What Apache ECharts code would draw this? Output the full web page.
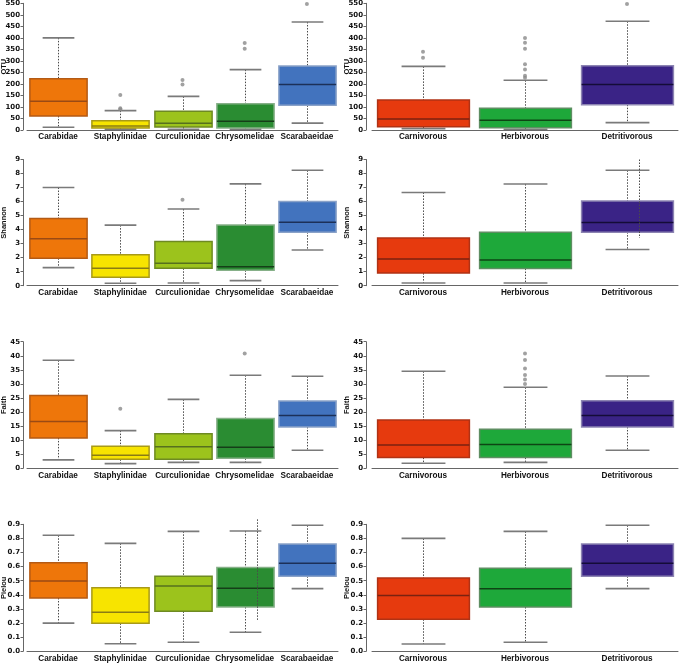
<!DOCTYPE html>
<html><head><meta charset="utf-8">
<script src="https://cdn.jsdelivr.net/npm/echarts@6/dist/echarts.min.js"></script>
<style>html,body{margin:0;padding:0;background:#fff}#c{width:684px;height:663px}</style>
</head><body><div id="c"></div>
<script>
// ---------- DATA ----------
const families = ['Carabidae', 'Staphylinidae', 'Curculionidae', 'Chrysomelidae', 'Scarabaeidae'];
const feedingGroups = ['Carnivorous', 'Herbivorous', 'Detritivorous'];
const metricNames = ['OTU', 'Shannon', 'Faith', 'Pielou'];
const yMaxes = [550, 9, 45, 0.9];
const ySteps = [50, 1, 5, 0.1];

// each box: [lower whisker, Q1, median, Q3, upper whisker]
const otuFamily = [[12, 61, 125, 223, 400], [4, 9, 17, 40, 84], [3, 13, 29, 81, 146], [4, 9, 38, 114, 262], [30, 107, 198, 278, 469]];
const otuFeeding = [[6, 14, 48, 130, 276], [3, 10, 42, 94, 216], [32, 110, 198, 279, 472]];
const shannonFamily = [[1.29, 1.96, 3.34, 4.8, 7.0], [0.17, 0.6, 1.24, 2.2, 4.32], [0.19, 1.24, 1.6, 3.15, 5.47], [0.36, 1.1, 1.36, 4.32, 7.26], [2.55, 3.82, 4.53, 6.01, 8.23]];
const shannonFeeding = [[0.19, 0.9, 1.9, 3.41, 6.65], [0.19, 1.22, 1.83, 3.82, 7.25], [2.58, 3.82, 4.51, 6.04, 8.23]];
const faithFamily = [[3.0, 10.8, 16.6, 25.9, 38.4], [1.66, 3.2, 4.6, 7.8, 13.4], [2.1, 3.2, 7.7, 12.3, 24.5], [2.1, 3.55, 7.5, 17.7, 33.1], [6.4, 14.7, 18.8, 23.9, 32.7]];
const faithFeeding = [[1.8, 3.8, 8.3, 17.2, 34.5], [2.1, 3.8, 8.5, 13.9, 28.8], [6.4, 14.7, 18.8, 24.05, 32.8]];
const pielouFamily = [[0.2, 0.378, 0.498, 0.628, 0.822], [0.054, 0.198, 0.276, 0.451, 0.765], [0.064, 0.283, 0.463, 0.532, 0.85], [0.135, 0.314, 0.446, 0.593, 0.853], [0.444, 0.532, 0.624, 0.761, 0.893]];
const pielouFeeding = [[0.052, 0.227, 0.395, 0.52, 0.80], [0.064, 0.314, 0.444, 0.588, 0.85], [0.444, 0.532, 0.624, 0.761, 0.893]];

// outliers: [category index, value]
const otuFamilyOutliers = [[1, 152], [1, 94], [1, 90], [2, 217], [2, 197], [3, 378], [3, 353], [4, 547]];
const otuFeedingOutliers = [[0, 340], [0, 314], [1, 399], [1, 379], [1, 353], [1, 285], [1, 263], [1, 236], [1, 227], [2, 547]];
const shannonFamilyOutliers = [[2, 6.13]];
const shannonFeedingOutliers = [];
const faithFamilyOutliers = [[1, 21.2], [3, 40.8]];
const faithFeedingOutliers = [[1, 40.8], [1, 38.5], [1, 35.5], [1, 33.2], [1, 31.6], [1, 30.0]];
const pielouFamilyOutliers = [];
const pielouFeedingOutliers = [];

// stray dotted whisker segments visible in the figure: [category index, low, high]
const shannonFeedingExtra = [[2, 3.4, 9.0]];
const pielouFamilyExtra = [[3, 0.222, 0.935]];

// ---------- STYLE ----------
const familyColors = [
  {fill: '#EE760A', border: '#B45A14', median: '#9A4A14'},
  {fill: '#F7E400', border: '#A89A18', median: '#8A7C14'},
  {fill: '#9CC31C', border: '#6E8A22', median: '#56701E'},
  {fill: '#2A8C32', border: '#86B088', median: '#153E18'},
  {fill: '#4273BE', border: '#8AA2C8', median: '#1C3058'}
];
const feedingColors = [
  {fill: '#E63A0E', border: '#B03214', median: '#7A2210'},
  {fill: '#1EA83A', border: '#5E8E62', median: '#0E4414'},
  {fill: '#3A2386', border: '#8C84B2', median: '#140C38'}
];

const famSets = [
  [otuFamily, otuFamilyOutliers, []], [shannonFamily, shannonFamilyOutliers, []],
  [faithFamily, faithFamilyOutliers, []], [pielouFamily, pielouFamilyOutliers, pielouFamilyExtra]
];
const feedSets = [
  [otuFeeding, otuFeedingOutliers, []], [shannonFeeding, shannonFeedingOutliers, shannonFeedingExtra],
  [faithFeeding, faithFeedingOutliers, []], [pielouFeeding, pielouFeedingOutliers, []]
];
const rowTops = [3.3, 159.5, 341.7, 524.3];
const rowHeights = [126.7, 126.2, 126.6, 127];

const grids = [], xAxes = [], yAxes = [], series = [];
const labelFont = {fontFamily: 'Liberation Sans, Arial, sans-serif', fontWeight: 'bold', color: '#111'};
const tickFont = {fontFamily: 'DejaVu Sans, sans-serif', fontWeight: 'bold', color: '#111'};

function boxRenderer(colors, boxRatio, capRatio) {
  return function (params, api) {
    const x = api.value(0);
    const lo = api.coord([x, api.value(1)]);
    const q1 = api.coord([x, api.value(2)]);
    const med = api.coord([x, api.value(3)]);
    const q3 = api.coord([x, api.value(4)]);
    const hi = api.coord([x, api.value(5)]);
    const band = api.size([1, 0])[0];
    const bw = band * boxRatio, cw = band * capRatio;
    const cx = Math.round(lo[0]) + 0.5;
    const c = colors[params.dataIndex];
    const dot = {stroke: '#4a4a4a', lineWidth: 1, lineDash: [1.5, 1.5]};
    const cap = {stroke: '#7a7a7a', lineWidth: 1.6};
    return {type: 'group', children: [
      {type: 'line', shape: {x1: cx, y1: hi[1], x2: cx, y2: q3[1]}, style: dot},
      {type: 'line', shape: {x1: cx, y1: q1[1], x2: cx, y2: lo[1]}, style: dot},
      {type: 'line', shape: {x1: cx - cw / 2, y1: hi[1], x2: cx + cw / 2, y2: hi[1]}, style: cap},
      {type: 'line', shape: {x1: cx - cw / 2, y1: lo[1], x2: cx + cw / 2, y2: lo[1]}, style: cap},
      {type: 'rect', shape: {x: cx - bw / 2, y: q3[1], width: bw, height: q1[1] - q3[1]},
        style: {fill: c.fill, stroke: c.border, lineWidth: 1.5}},
      {type: 'line', shape: {x1: cx - bw / 2, y1: med[1], x2: cx + bw / 2, y2: med[1]},
        style: {stroke: c.median, lineWidth: 1.5}}
    ]};
  };
}
function extraRenderer(params, api) {
  const x = api.value(0);
  const lo = api.coord([x, api.value(1)]);
  const hi = api.coord([x, api.value(2)]);
  const cx = Math.round(lo[0]) + 12.5;
  return {type: 'line', shape: {x1: cx, y1: hi[1], x2: cx, y2: lo[1]},
    style: {stroke: '#4a4a4a', lineWidth: 1, lineDash: [1.5, 1.5]}};
}

function addPanel(idx, row, isLeft) {
  const cats = isLeft ? families : feedingGroups;
  const set = isLeft ? famSets[row] : feedSets[row];
  const colors = isLeft ? familyColors : feedingColors;
  grids.push({
    left: isLeft ? 27 : 372, width: isLeft ? 311 : 306,
    top: rowTops[row], height: rowHeights[row], containLabel: false,
    outerBoundsMode: 'none'
  });
  xAxes.push({
    type: 'category', gridIndex: idx, data: cats,
    axisLine: {lineStyle: {color: '#666', width: 1}},
    axisTick: {show: false},
    axisLabel: Object.assign({fontSize: 8.2, margin: 3, interval: 0}, labelFont),
    splitLine: {show: false}
  });
  const step = ySteps[row];
  yAxes.push({
    type: 'value', gridIndex: idx, min: 0, max: yMaxes[row], interval: step,
    offset: isLeft ? 4 : 6,
    name: metricNames[row], nameLocation: 'middle', nameGap: 15.5, nameMoveOverlap: false,
    nameTextStyle: Object.assign({fontSize: 7.5}, labelFont),
    axisLine: {show: true, lineStyle: {color: '#666', width: 1}},
    axisTick: {show: true, length: 2.5, lineStyle: {color: '#666'}},
    axisLabel: Object.assign({fontSize: 7, margin: 3,
      formatter: v => row === 3 ? v.toFixed(1) : String(Math.round(v))}, tickFont),
    splitLine: {show: false}
  });
  const boxData = set[0].map((b, i) => [i].concat(b));
  series.push({
    type: 'custom', xAxisIndex: idx, yAxisIndex: idx,
    renderItem: boxRenderer(colors, isLeft ? 0.92 : 0.90, isLeft ? 0.51 : 0.43),
    encode: {x: 0, y: [1, 2, 3, 4, 5]}, data: boxData, silent: true, z: 2
  });
  if (set[2].length) {
    series.push({
      type: 'custom', xAxisIndex: idx, yAxisIndex: idx, renderItem: extraRenderer,
      encode: {x: 0, y: [1, 2]}, data: set[2], silent: true, z: 3
    });
  }
  if (set[1].length) {
    series.push({
      type: 'scatter', xAxisIndex: idx, yAxisIndex: idx, data: set[1],
      symbol: 'circle', symbolSize: 4, itemStyle: {color: '#8a8a8a'}, silent: true, z: 4
    });
  }
}

let k = 0;
for (let r = 0; r < 4; r++) {
  addPanel(k++, r, true);
  addPanel(k++, r, false);
}

const chart = echarts.init(document.getElementById('c'), null, {renderer: 'canvas'});
chart.setOption({
  animation: false, backgroundColor: '#fff',
  grid: grids, xAxis: xAxes, yAxis: yAxes, series: series
});
</script></body></html>
